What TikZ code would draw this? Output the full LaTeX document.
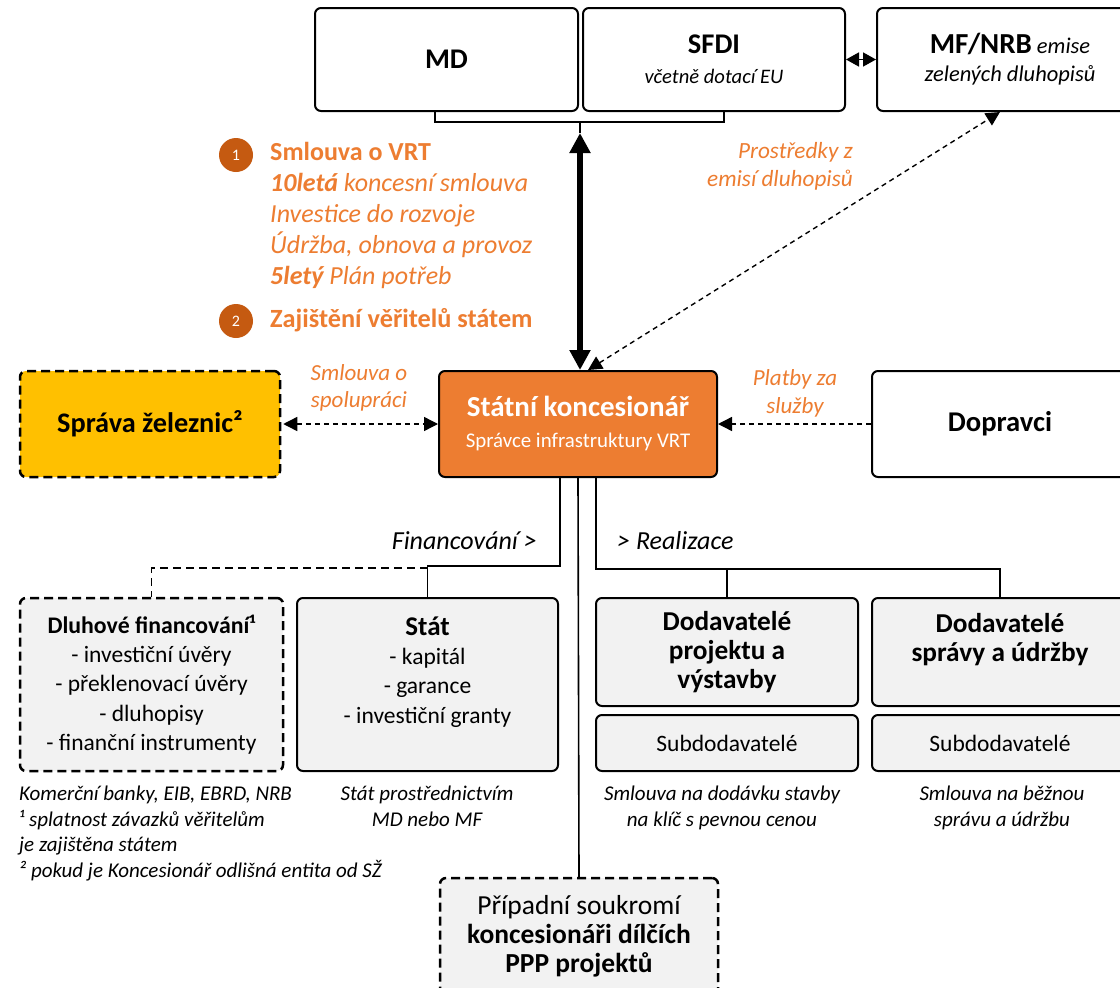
\documentclass[tikz,border=0pt]{standalone}
\usepackage{fontspec}
\setmainfont{Carlito}
\usetikzlibrary{arrows.meta}
\definecolor{orng}{HTML}{ED7D31}
\definecolor{dorng}{HTML}{C55A11}
\definecolor{yel}{HTML}{FFC000}
\definecolor{lgray}{HTML}{F2F2F2}
\newcommand{\fs}[2]{\fontsize{#1}{#2}\selectfont}
\begin{document}
\begin{tikzpicture}[x=1pt,y=-1pt,
  >={Triangle[width=14pt,length=14pt]},
  box/.style={draw=black, line width=2pt, rounded corners=6pt, align=center, inner sep=0pt},
  dbox/.style={box, dash pattern=on 9pt off 5pt, line width=2.5pt},
  conn/.style={line width=1.6pt},
  dconn/.style={line width=1.4pt, dash pattern=on 5pt off 4pt},
  otext/.style={text=orng, inner sep=0pt},
  captxt/.style={inner sep=0pt, font=\fs{21}{25.5}\itshape},
  num/.style={circle, fill=dorng, minimum size=34pt, inner sep=0pt, text=white, font=\fs{16}{18}}
]
\useasboundingbox (0,0) rectangle (1120,988);
\clip (0,0) rectangle (1120,988);
\fill[white] (0,0) rectangle (1120,988);

% top boxes
\node[box, minimum width=263pt, minimum height=103pt, font=\fs{28.5}{30}\bfseries] (md) at (446.5,59.5) {MD};
\node[box, minimum width=262pt, minimum height=103pt, font=\fs{20.6}{30}] (sfdi) at (714,59.5)
  {{\fs{28.5}{30}\bfseries SFDI}\\{\itshape včetně dotací EU}};
\node[box, minimum width=266pt, minimum height=103pt, font=\fs{22.5}{28}] (mf) at (1010,59.5)
  {{\fs{29}{28}\bfseries MF/NRB} {\itshape emise}\\{\itshape zelených dluhopisů}};

% middle row
\node[box, fill=orng, text=white, minimum width=278pt, minimum height=106pt, font=\fs{20.9}{31}] (kon) at (578,424)
  {{\fs{29}{31}\bfseries Státní koncesionář}\\Správce infrastruktury VRT};
\node[dbox, fill=yel, minimum width=260pt, minimum height=106pt, font=\fs{28.3}{30}\bfseries] (sz) at (150,424) {Správa železnic²};
\node[box, minimum width=256pt, minimum height=106pt, font=\fs{28.6}{30}\bfseries] (dop) at (1000,424) {Dopravci};

% lower row
\node[dbox, fill=lgray, minimum width=263pt, minimum height=173pt, font=\fs{23.5}{29.3}] (dluh) at (151.5,684.5)
  {{\fs{23.8}{29.3}\bfseries Dluhové financování¹}\\- investiční úvěry\\- překlenovací úvěry\\- dluhopisy\\- finanční instrumenty};
\node[box, fill=lgray, minimum width=261pt, minimum height=173pt, font=\fs{23.5}{29.3}] (stat) at (427.5,684.5)
  {{\fs{27}{29.3}\bfseries Stát}\\- kapitál\\- garance\\- investiční granty\\\mbox{}};
\node[box, fill=lgray, minimum width=262pt, minimum height=108pt, font=\fs{27.3}{29}\bfseries] (dod1) at (727,652)
  {Dodavatelé\\projektu a\\výstavby};
\node[box, fill=lgray, minimum width=256pt, minimum height=108pt, font=\fs{27.3}{29}\bfseries] (dod2) at (1000,652)
  {Dodavatelé\\správy a údržby\\\mbox{}};
\node[box, fill=lgray, minimum width=262pt, minimum height=56pt, font=\fs{23.5}{28}] (sub1) at (727,743) {Subdodavatelé};
\node[box, fill=lgray, minimum width=256pt, minimum height=56pt, font=\fs{23.5}{28}] (sub2) at (1000,743) {Subdodavatelé};
\node[dbox, fill=lgray, minimum width=278pt, minimum height=117pt, font=\fs{27.5}{29}] (ppp) at (579,936.5)
  {Případní soukromí\\\textbf{koncesionáři dílčích}\\\textbf{PPP projektů}};

% bracket under MD+SFDI and thick arrow
\coordinate (brL) at (435,111);
\coordinate (brR) at (724,111);
\coordinate (brM) at (580,122);
\draw[conn] (brL) -- ++(0,11) -| (brR);
\draw[conn] (brM) -- ++(0,11) coordinate (brT);
\draw[line width=6pt, {Triangle[width=20pt,length=20pt]}-{Triangle[width=20pt,length=20pt]}] (brT) -- (kon.north -| brT);

% SFDI <-> MF
\draw[conn, {Triangle[width=14pt,length=13pt]}-{Triangle[width=14pt,length=13pt]}] (sfdi.east) -- (mf.west |- sfdi.east);

% diagonal dashed
\draw[dconn, <->] (kon.north -| 588,0) -- (mf.south -| 1000,0);

% horizontal dashed arrows
\draw[dconn, <->] ([xshift=2pt]sz.east) -- (kon.west);
\draw[dconn, ->] (dop.west) -- (kon.east);

% financing branch
\coordinate (fj) at (560,566);
\coordinate (fd) at (427.5,568);
\draw[conn] (kon.south -| fj) -- (fj) -| (stat.north);
\draw[line width=1.8pt, dash pattern=on 8pt off 5pt] (fd) -| (dluh.north);

% realization branch
\coordinate (rj) at (596,569);
\draw[conn] (kon.south -| rj) -- (rj) -| (dod2.north);
\draw[conn] (dod1.north |- rj) -- (dod1.north);

% PPP
\draw[conn] (kon.south) -- (ppp.north);

% orange numbered text
\node[num] (n1) at (236,155) {1};
\node[num] (n2) at (236,321) {2};
\node[otext, anchor=west, align=left, font=\fs{26}{31}\itshape] (t1) at (270,215)
  {{\upshape\bfseries Smlouva o VRT}\\{\bfseries 10letá} koncesní smlouva\\Investice do rozvoje\\Údržba, obnova a provoz\\{\bfseries 5letý} Plán potřeb};
\node[otext, anchor=west, font=\fs{26.3}{31}\bfseries] (t2) at (270,320) {Zajištění věřitelů státem};

\node[otext, anchor=east, align=right, font=\fs{23.2}{28}\itshape] (lpro) at (853,166) {Prostředky z\\emisí dluhopisů};
\node[otext, align=center, font=\fs{23}{27}\itshape] (lspo) at (359,388) {Smlouva o\\spolupráci};
\node[otext, align=center, font=\fs{23}{28}\itshape] (lpla) at (795,393) {Platby za\\služby};

\node[inner sep=0pt, anchor=east, font=\fs{26}{28}\itshape] (lfin) at (537,541) {Financování >};
\node[inner sep=0pt, anchor=west, font=\fs{26}{28}\itshape] (lrea) at (617,541) {> Realizace};

% captions
\node[captxt, anchor=north west, align=left] (c1) at (19,786)
  {Komerční banky, EIB, EBRD, NRB\\¹ splatnost závazků věřitelům\\je zajištěna státem\\² pokud je Koncesionář odlišná entita od SŽ};
\node[captxt, anchor=north, align=center] (c2) at (427,786) {Stát prostřednictvím\\MD nebo MF};
\node[captxt, anchor=north, align=center] (c3) at (722,786) {Smlouva na dodávku stavby\\na klíč s pevnou cenou};
\node[captxt, anchor=north, align=center] (c4) at (1002,786) {Smlouva na běžnou\\správu a údržbu};
\end{tikzpicture}
\end{document}
